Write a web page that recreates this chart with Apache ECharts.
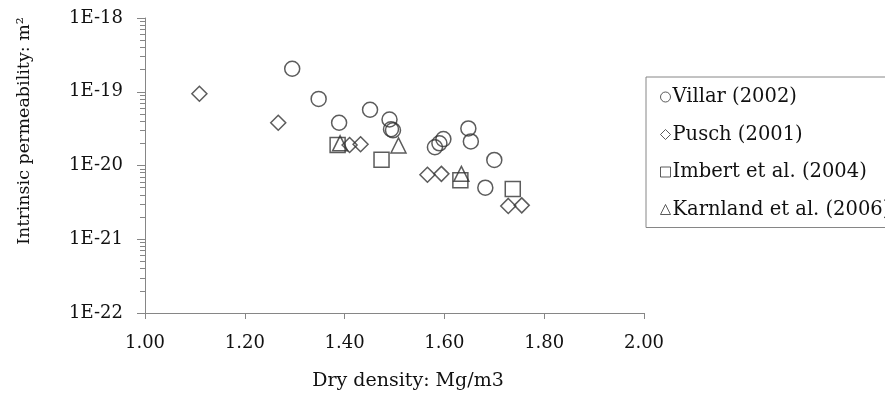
<!DOCTYPE html>
<html>
<head>
<meta charset="utf-8">
<script src="https://cdn.jsdelivr.net/npm/echarts@6/dist/echarts.min.js"></script>
<style>
  html, body { margin: 0; padding: 0; background: #fff; }
  #chart { width: 885px; height: 396px; }
</style>
</head>
<body>
<div id="chart"></div>
<script>
// dry density (Mg/m3) and intrinsic permeability (m2)
const villarDensity = [1.295, 1.348, 1.389, 1.451, 1.490, 1.493, 1.497, 1.581, 1.590, 1.598, 1.648, 1.653, 1.700, 1.682];
const villarPerm = [2.05e-19, 8.0e-20, 3.8e-20, 5.7e-20, 4.2e-20, 3.1e-20, 3.0e-20, 1.77e-20, 2.0e-20, 2.28e-20, 3.18e-20, 2.12e-20, 1.19e-20, 5.0e-21];

const puschDensity = [1.109, 1.267, 1.410, 1.432, 1.566, 1.594, 1.728, 1.755];
const puschPerm = [9.4e-20, 3.8e-20, 1.9e-20, 1.94e-20, 7.5e-21, 7.7e-21, 2.83e-21, 2.88e-21];

const imbertDensity = [1.386, 1.474, 1.632, 1.737];
const imbertPerm = [1.9e-20, 1.2e-20, 6.3e-21, 4.8e-21];

const karnlandDensity = [1.391, 1.508, 1.634];
const karnlandPerm = [2.0e-20, 1.87e-20, 7.7e-21];

const seriesNames = ["Villar (2002)", "Pusch (2001)", "Imbert et al. (2004)", "Karnland et al. (2006)"];

// echarts log axis rounds tiny numbers to 0, so plot in units of 1e-22 m2
const UNIT = 1e-22;
const minorTicks = [];
for (let d = 1; d <= 1000; d *= 10) {
  for (let m = 2; m <= 9; m++) minorTicks.push(m * d);
}

const FONT = "DejaVu Serif";
const AXIS_GREY = "#868686";
const MARK = "#333";

function toPoints(xs, ys) {
  return xs.map((x, i) => [x, ys[i] / UNIT]);
}

function scatter(name, symbol, xs, ys) {
  return {
    name: name,
    type: "scatter",
    symbol: symbol,
    symbolSize: 15,
    data: toPoints(xs, ys),
    itemStyle: { color: "rgba(255,255,255,0)", borderColor: MARK, borderWidth: 1.5 },
    emphasis: { disabled: true },
  };
}

const chart = echarts.init(document.getElementById("chart"));
chart.setOption({
  animation: false,
  grid: { left: 145, right: 241, top: 18, bottom: 81 },
  legend: {
    orient: "vertical",
    left: 646,
    top: 77,
    padding: [10, 20, 8, 14],
    itemWidth: 10,
    itemHeight: 10,
    itemGap: 17.5,
    borderColor: AXIS_GREY,
    borderWidth: 1,
    data: seriesNames,
    itemStyle: { borderWidth: 1 },
    textStyle: { fontFamily: FONT, fontSize: 19.5, lineHeight: 20, color: "#111", padding: [0, 0, 0, -3] },
  },
  xAxis: {
    type: "value",
    min: 1,
    max: 2,
    interval: 0.2,
    name: "Dry density: Mg/m3",
    nameLocation: "middle",
    nameGap: 59,
    nameTextStyle: { fontFamily: FONT, fontSize: 19, color: "#111", padding: [0, 0, 0, 27] },
    axisLine: { onZero: false, lineStyle: { color: AXIS_GREY } },
    axisTick: { length: 6, lineStyle: { color: AXIS_GREY } },
    splitLine: { show: false },
    axisLabel: {
      margin: 21,
      fontFamily: FONT,
      fontSize: 18,
      color: "#111",
      formatter: (v) => v.toFixed(2),
    },
  },
  yAxis: [
    {
      type: "log",
      logBase: 10,
      min: 1,
      max: 1e4,
      name: "Intrinsic permeability: m\u00b2",
      nameLocation: "middle",
      nameGap: 112,
      nameTextStyle: { fontFamily: FONT, fontSize: 17.5, color: "#111", padding: [0, 0, 0, 69] },
      axisLine: { show: true, onZero: false, lineStyle: { color: AXIS_GREY } },
      axisTick: { show: true, length: 8, lineStyle: { color: AXIS_GREY } },
      splitLine: { show: false },
      axisLabel: {
        margin: 22,
        fontFamily: FONT,
        fontSize: 18,
        color: "#111",
        formatter: (v) => "1E-" + (22 - Math.round(Math.log10(v))),
      },
    },
    {
      // minor ticks only
      type: "log",
      logBase: 10,
      min: 1,
      max: 1e4,
      position: "left",
      axisLine: { show: false },
      axisLabel: { show: false },
      splitLine: { show: false },
      axisTick: { show: true, length: 5, customValues: minorTicks, lineStyle: { color: AXIS_GREY } },
    },
  ],
  series: [
    scatter(seriesNames[0], "circle", villarDensity, villarPerm),
    scatter(seriesNames[1], "diamond", puschDensity, puschPerm),
    scatter(seriesNames[2], "rect", imbertDensity, imbertPerm),
    scatter(seriesNames[3], "triangle", karnlandDensity, karnlandPerm),
  ],
});
</script>
</body>
</html>
